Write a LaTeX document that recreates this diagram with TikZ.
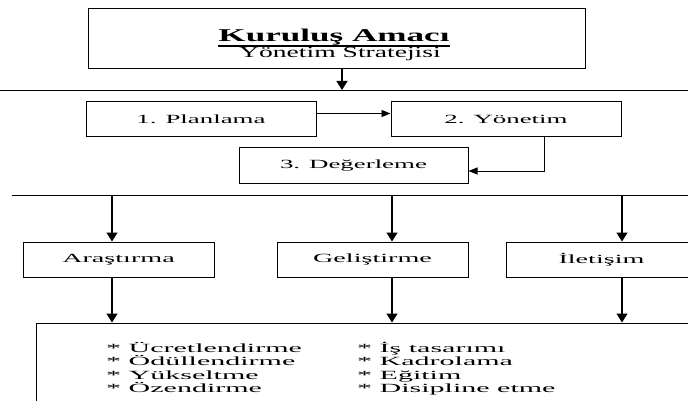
\documentclass[tikz,border=0pt]{standalone}
\usepackage{fontspec}
\setmainfont{Liberation Serif}
\usepackage{graphicx}
\usetikzlibrary{arrows.meta}

% yatay olarak genisletilmis yazi
\newcommand{\genis}[2]{\scalebox{#1}[1]{#2}}

\tikzset{
  kutu/.style={draw, line width=1pt, minimum height=35pt, inner sep=0pt,
    font=\fontsize{12.5}{14}\selectfont},
  ok/.style={line width=1.3pt, -{Triangle[length=9pt,width=11pt]}},
  inceok/.style={line width=0.8pt, -{Triangle[length=9pt,width=7pt]}},
  ayrac/.style={line width=0.8pt},
  liste/.style={anchor=base west, inner sep=0pt, font=\fontsize{12.5}{14}\selectfont}
}

\begin{document}
\begin{tikzpicture}[x=1pt,y=-1pt]
\useasboundingbox (0,0) rectangle (688,401);
\clip (0,0) rectangle (688,401);

% Ust kutu
\node[kutu, minimum width=497pt, minimum height=60pt] (ust) at (336.5,39) {};
\node[anchor=base, inner sep=0pt, font=\fontsize{18}{20}\selectfont\bfseries] (baslik) at (334,42) {\genis{1.95}{Kuruluş Amacı}};
\draw[line width=1.5pt] ([yshift=-4pt]baslik.base west) -- ([yshift=-4pt]baslik.base east);
\node[anchor=base, inner sep=0pt, font=\fontsize{15.5}{17}\selectfont] (altbaslik) at (340,58) {\genis{1.78}{Yönetim Stratejisi}};

% Birinci ayrac cizgisi
\coordinate (s1a) at (0,90);
\coordinate (s1b) at (688,90);
\draw[ayrac] (s1a) -- (s1b);
\coordinate (o1) at ([xshift=5.5pt]ust.south);
\draw[ok] (o1) -- (o1 |- s1a);

% Planlama - Yonetim - Degerleme
\node[kutu, minimum width=230pt] (plan) at (201,119.5) {\genis{2.15}{1. Planlama}};
\node[kutu, minimum width=230pt] (yon) at (506,119.5) {\genis{2.15}{2. Yönetim}};
\node[kutu, minimum width=229pt] (deg) at (353.5,165.5) {\genis{2.15}{3. Değerleme}};
\draw[inceok] ([yshift=6pt]plan.east) -- ([yshift=6pt]yon.west);
\draw[inceok] ([xshift=38pt]yon.south) |- ([yshift=-5.5pt]deg.east);

% Ikinci ayrac cizgisi
\coordinate (s2a) at (12,195);
\coordinate (s2b) at (688,195);
\draw[ayrac] (s2a) -- (s2b);

% Alt kutular
\node[kutu, minimum width=191pt] (aras) at (118.5,259.5) {\genis{2.25}{Araştırma}};
\node[kutu, minimum width=191pt] (gel) at (372.5,259.5) {\genis{2.25}{Geliştirme}};
\node[kutu, minimum width=191pt] (ilet) at (601.5,259.5) {\genis{2.25}{İletişim}};
\node[kutu, minimum width=680pt, minimum height=100pt] (alt) at (376,373) {};

\coordinate (a1) at (112,195);
\coordinate (a2) at (392,195);
\coordinate (a3) at (622,195);
\draw[ok] (a1) -- (a1 |- aras.north);
\draw[ok] (a2) -- (a2 |- gel.north);
\draw[ok] (a3) -- (a3 |- ilet.north);
\draw[ok] (a1 |- aras.south) -- (a1 |- alt.north);
\draw[ok] (a2 |- gel.south) -- (a2 |- alt.north);
\draw[ok] (a3 |- ilet.south) -- (a3 |- alt.north);

% Liste
\foreach \metin [count=\i] in {Ücretlendirme, Ödüllendirme, Yükseltme, Özendirme}
  \node[liste] (sol\i) at (106,338.5+13.5*\i) {\genis{2.4}{* \metin}};
\foreach \metin [count=\i] in {İş tasarımı, Kadrolama, Eğitim, Disipline etme}
  \node[liste] (sag\i) at (357,338.5+13.5*\i) {\genis{2.4}{* \metin}};

\end{tikzpicture}
\end{document}
